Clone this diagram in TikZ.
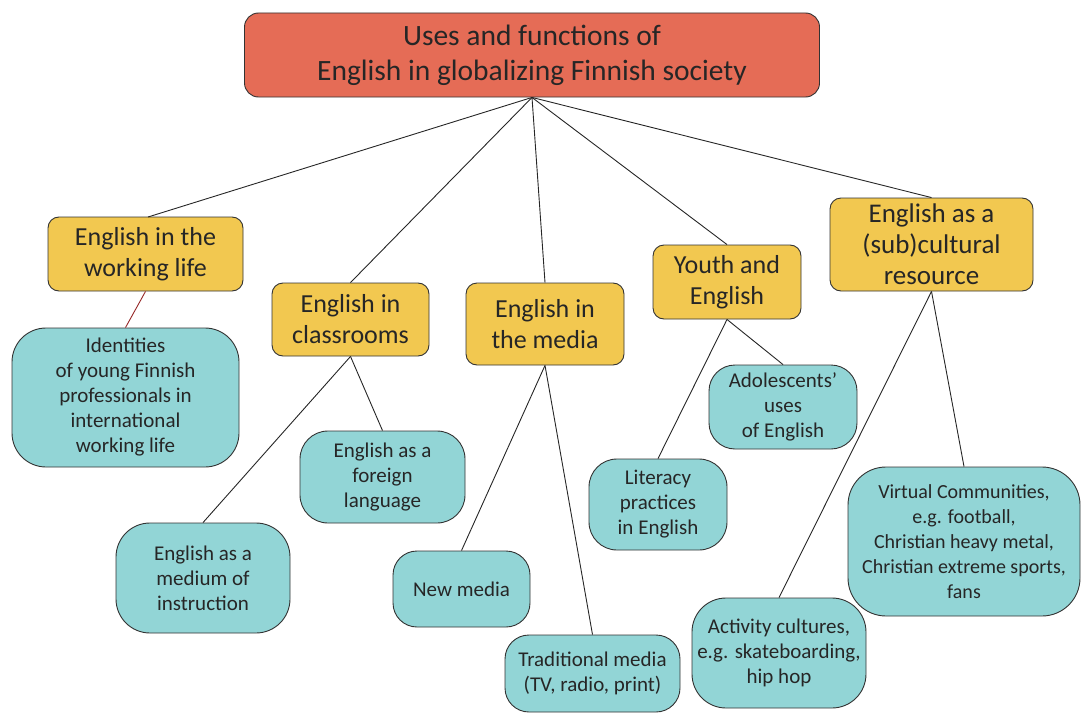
\documentclass[tikz,border=0pt]{standalone}
\usepackage{fontspec}
\setmainfont{Carlito}
\definecolor{topred}{RGB}{229,108,86}
\definecolor{catyellow}{RGB}{242,200,80}
\definecolor{leafcyan}{RGB}{146,213,214}
\definecolor{edgered}{RGB}{150,40,40}
\begin{document}
\begin{tikzpicture}[x=1pt,y=-1pt,
  base/.style={draw=black!80, line width=0.9pt, align=center, inner sep=0pt, text=black!85},
  topbox/.style={base, fill=topred, rounded corners=14pt, font=\fontsize{29.5}{35}\selectfont},
  catbox/.style={base, fill=catyellow, rounded corners=11pt, font=\fontsize{26}{31}\selectfont},
  leafbox/.style={base, fill=leafcyan, rounded corners=34pt, font=\fontsize{21}{25}\selectfont},
  link/.style={draw=black!85, line width=0.9pt}
]
\useasboundingbox (0,0) rectangle (1081,725);
\node[topbox, minimum width=575pt, minimum height=84pt] (top) at (532,55) {Uses and functions of\\English in globalizing Finnish society};

\node[catbox, minimum width=195pt, minimum height=74pt] (work) at (145.5,254) {English in the\\working life};
\node[catbox, minimum width=157pt, minimum height=73pt] (class) at (350.5,319.5) {English in\\classrooms};
\node[catbox, minimum width=158pt, minimum height=82pt] (media) at (545,324) {English in\\the media};
\node[catbox, minimum width=148pt, minimum height=74pt] (youth) at (727,282) {Youth and\\English};
\node[catbox, minimum width=203pt, minimum height=93pt, font=\fontsize{27}{31}\selectfont] (sub) at (931.5,244.5) {English as a\\(sub)cultural\\resource};

\node[leafbox, minimum width=227pt, minimum height=139pt] (ident) at (125.5,397.5) {Identities\\of young Finnish\\professionals in\\international\\working life};
\node[leafbox, minimum width=165pt, minimum height=92pt, rounded corners=28pt] (foreign) at (382.5,477) {English as a\\foreign\\language};
\node[leafbox, minimum width=174pt, minimum height=110pt] (medium) at (203,578) {English as a\\medium of\\instruction};
\node[leafbox, minimum width=137pt, minimum height=76pt, rounded corners=24pt] (newm) at (461.5,589) {New media};
\node[leafbox, minimum width=175pt, minimum height=77pt, rounded corners=24pt] (trad) at (592.5,673.5) {Traditional media\\(TV, radio, print)};
\node[leafbox, minimum width=148pt, minimum height=84pt, rounded corners=26pt] (adol) at (783,407) {Adolescents'\\uses\\of English};
\node[leafbox, minimum width=138pt, minimum height=91pt, rounded corners=28pt] (lit) at (658,504.5) {Literacy\\practices\\in English};
\node[leafbox, minimum width=174pt, minimum height=110pt] (act) at (779,653) {Activity cultures,\\e.g. skateboarding,\\hip hop};
\node[leafbox, minimum width=232pt, minimum height=149pt, rounded corners=38pt, font=\fontsize{20}{25}\selectfont] (virt) at (964,541.5) {Virtual Communities,\\e.g. football,\\Christian heavy metal,\\Christian extreme sports,\\fans};

\draw[link] (top.south) -- (148,217) coordinate (wt);
\draw[link] (top.south) -- (class.north);
\draw[link] (top.south) -- (media.north);
\draw[link] (top.south) -- (youth.north);
\draw[link] (top.south) -- (sub.north);

\draw[link, draw=edgered] (work.south) -- (ident.north);
\draw[link] (class.south) -- (foreign.north);
\draw[link] (class.south) -- (medium.north);
\draw[link] (media.south) -- (newm.north);
\draw[link] (media.south) -- (trad.north);
\draw[link] (youth.south) -- (adol.north);
\draw[link] (youth.south) -- (lit.north);
\draw[link] (sub.south) -- (virt.north);
\draw[link] (sub.south) -- (act.north);
\end{tikzpicture}
\end{document}
